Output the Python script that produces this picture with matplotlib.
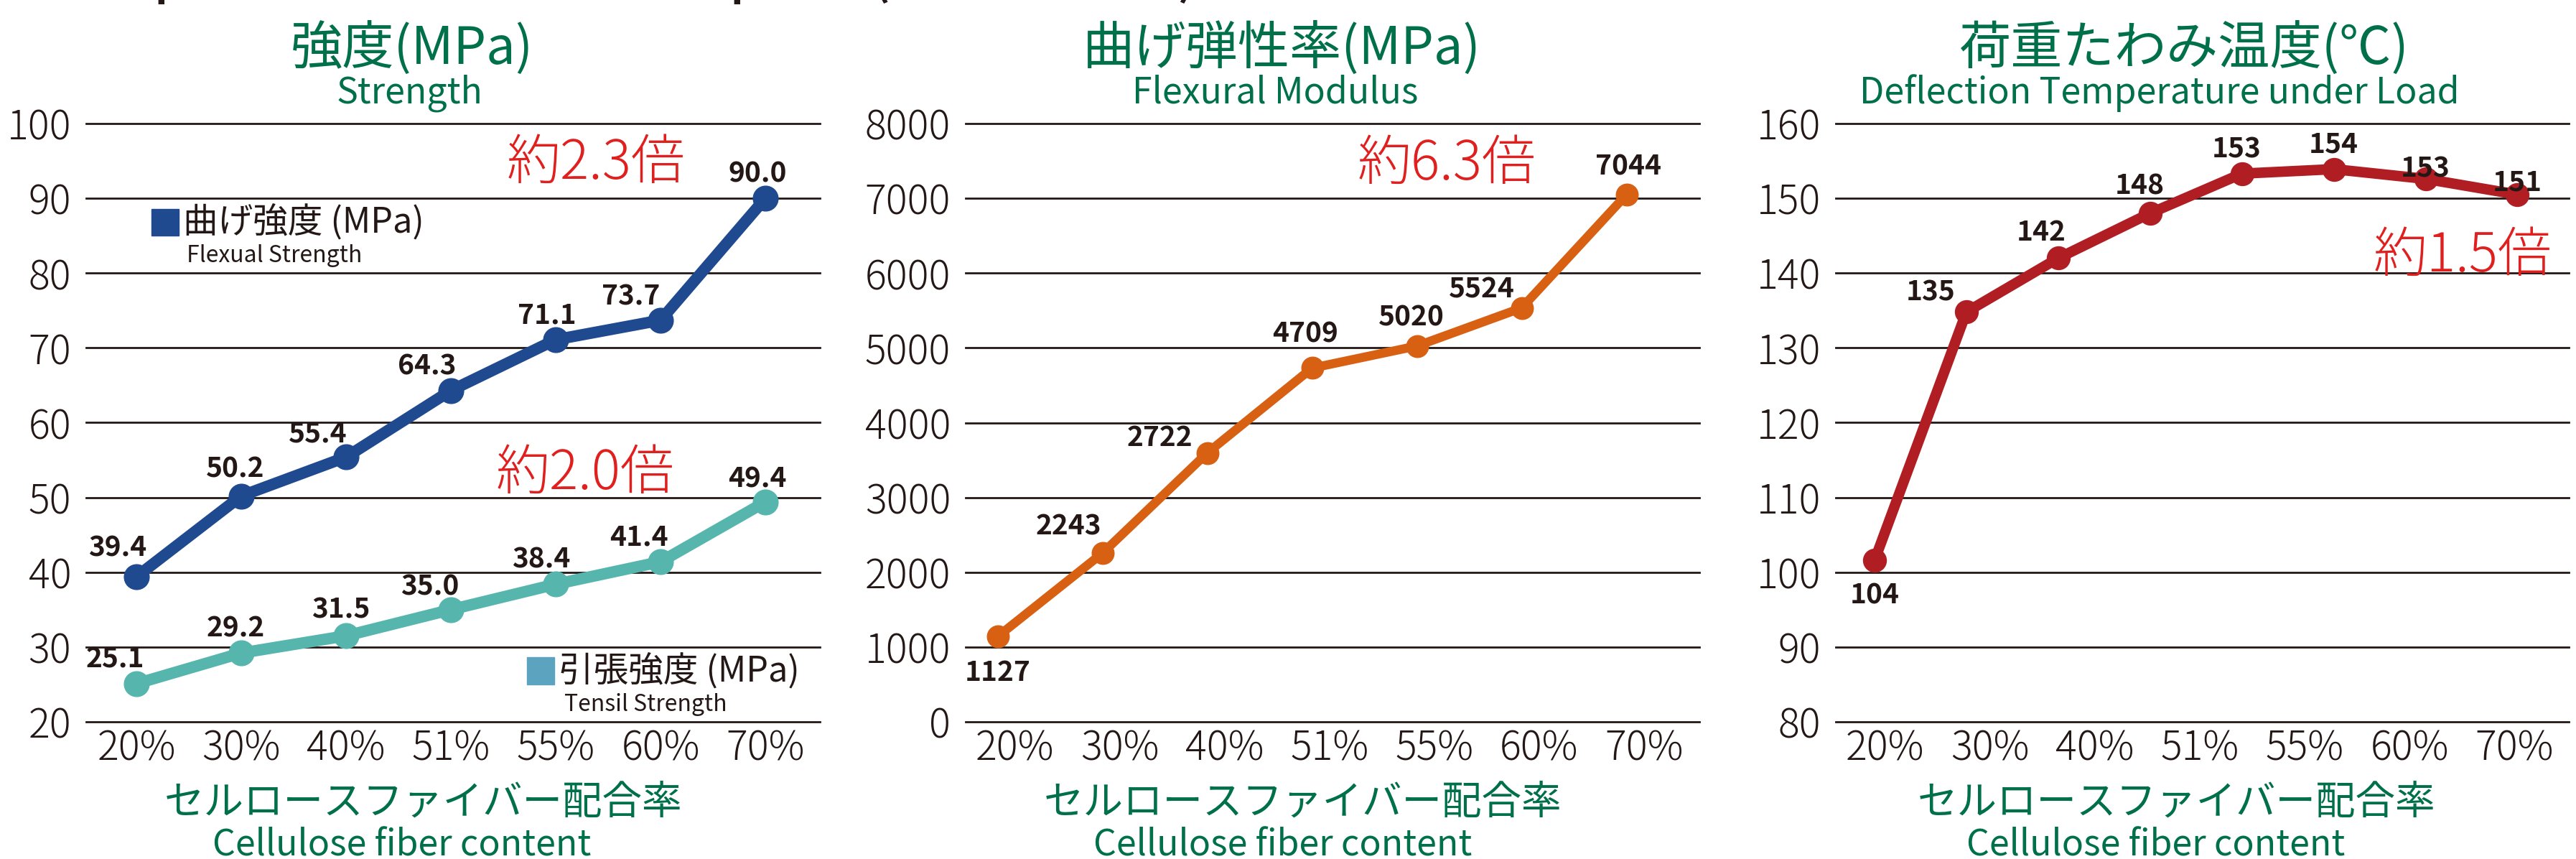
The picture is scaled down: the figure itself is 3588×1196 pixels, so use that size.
import matplotlib
matplotlib.use("Agg")
import matplotlib.pyplot as plt
from matplotlib.patches import Rectangle
import numpy as np

plt.rcParams['font.family'] = ['Noto Sans CJK JP', 'DejaVu Sans']

# --- data -------------------------------------------------------------
fiber = ['20%', '30%', '40%', '51%', '55%', '60%', '70%']

flex_strength = [39.4, 50.2, 55.4, 64.3, 71.1, 73.7, 90.0]
tensile_strength = [25.1, 29.2, 31.5, 35.0, 38.4, 41.4, 49.4]

# flexural modulus: plotted positions as drawn, labels as printed
modulus = [1140, 2255, 3595, 4730, 5025, 5535, 7050]
modulus_labels = ['1127', '2243', '2722', '4709', '5020', '5524', '7044']

# deflection temperature: 8 points drawn over the 7 categories
dtul = [101.6, 134.8, 142.0, 148.0, 153.3, 153.9, 152.6, 150.5]
dtul_labels = ['104', '135', '142', '148', '153', '154', '153', '151']

# label offsets (pixels, y up)
flex_off = [(-26, 40), (-8, 38), (-39, 32), (-33, 34), (-12, 34), (-41, 33), (-11, 34)]
tens_off = [(-30, 34), (-8, 34), (-7, 36), (-29, 32), (-20, 34), (-30, 34), (-11, 32)]
mod_off = [(0, -50), (-47, 37), (-66, 21), (-9, 47), (-8, 40), (-56, 26), (2, 39)]
dtul_off = [(0, -49), (-50, 27), (-24, 36), (-15, 38), (-8, 34), (0, 35), (0, 14), (0, 17)]

# --- style -------------------------------------------------------------
W, H = 3588, 1196
dark = '#231815'
green = '#00704A'
red = '#E0201F'
blue = '#1F4A8F'
teal = '#56B6AE'
orange = '#D86013'
crimson = '#B01E24'

fig = plt.figure(figsize=(W / 100, H / 100), dpi=100)


def ftext(x, y, s, **kw):
    fig.text(x / W, 1 - y / H, s, **kw)


def make_axes(left, width, ymin, ymax, step, xlim):
    ax = fig.add_axes([left / W, 1 - 1005 / H, width / W, (1005 - 172) / H])
    ax.set_xlim(*xlim)
    ax.set_ylim(ymin, ymax)
    for s in ax.spines.values():
        s.set_visible(False)
    ticks = np.arange(ymin, ymax + step, step)
    for t in ticks:
        ax.axhline(t, color=dark, lw=2.0, zorder=1, clip_on=False)
    ax.set_yticks(ticks)
    ax.set_xticks(range(len(fiber)))
    ax.set_xticklabels(fiber)
    ax.tick_params(axis='y', length=0, labelsize=40, colors=dark, pad=15)
    ax.tick_params(axis='x', length=0, labelsize=40, colors=dark, pad=6)
    for t in ax.get_xticklabels() + ax.get_yticklabels():
        t.set_fontweight('light')
    return ax


def labels(ax, xs, ys, texts, offs):
    for x, y, t, (dx, dy) in zip(xs, ys, texts, offs):
        ax.annotate(t, (x, y), xytext=(dx, dy), textcoords='offset pixels',
                    ha='center', va='center', fontsize=28, fontweight='bold',
                    color=dark, zorder=5)


# panel 1: strength
ax1 = make_axes(120, 1022, 20, 100, 10, (-0.48, 6.52))
x = np.arange(len(fiber))
ax1.plot(x, flex_strength, color=blue, lw=11.5, marker='o', ms=25,
         solid_joinstyle='round', zorder=3)
ax1.plot(x, tensile_strength, color=teal, lw=11.5, marker='o', ms=25,
         solid_joinstyle='round', zorder=3)
labels(ax1, x, flex_strength, [f"{v:.1f}" for v in flex_strength], flex_off)
labels(ax1, x, tensile_strength, [f"{v:.1f}" for v in tensile_strength], tens_off)

# panel 2: flexural modulus
ax2 = make_axes(1345, 1022, 0, 8000, 1000, (-0.47, 6.53))
x2 = np.arange(len(fiber)) - 0.165
ax2.plot(x2, modulus, color=orange, lw=9, marker='o', ms=22,
         solid_joinstyle='round', zorder=3)
labels(ax2, x2, modulus, modulus_labels, mod_off)

# panel 3: deflection temperature under load
ax3 = make_axes(2557, 1021, 80, 160, 10, (-0.47, 6.52))
x3 = np.linspace(-0.10, 6.03, len(dtul))
ax3.plot(x3, dtul, color=crimson, lw=10.5, marker='o', ms=23,
         solid_joinstyle='round', zorder=3)
labels(ax3, x3, dtul, dtul_labels, dtul_off)

# titles
ftext(574, 67, '強度(MPa)', ha='center', va='center', fontsize=52, color=green)
ftext(570, 130, 'Strength', ha='center', va='center', fontsize=36, color=green)
ftext(1785, 67, '曲げ弾性率(MPa)', ha='center', va='center', fontsize=52, color=green)
ftext(1776, 130, 'Flexural Modulus', ha='center', va='center', fontsize=36, color=green)
ftext(3042, 67, '荷重たわみ温度(℃)', ha='center', va='center', fontsize=52, color=green)
ftext(3008, 130, 'Deflection Temperature under Load', ha='center', va='center',
      fontsize=36, color=green)

# x axis labels
for cx, ex in [(589, 560), (1814, 1787), (3031, 3003)]:
    ftext(cx, 1118, 'セルロースファイバー配合率', ha='center', va='center',
          fontsize=40, color=green)
    ftext(ex, 1192, 'Cellulose fiber content', ha='center', va='baseline',
          fontsize=36, color=green)

# ratio notes
for nx, ny, s in [(830, 228, '約2.3倍'), (815, 660, '約2.0倍'),
                  (2015, 229, '約6.3倍'), (3430, 357, '約1.5倍')]:
    ftext(nx, ny, s, ha='center', va='center', fontsize=54, color=red,
          fontweight='light')

# legends
fig.add_artist(Rectangle((211 / W, 1 - 328 / H), 38 / W, 37 / H,
                         transform=fig.transFigure, color=blue))
ftext(255, 310, '曲げ強度 (MPa)', ha='left', va='center', fontsize=35, color=dark)
ftext(260, 356, 'Flexual Strength', ha='left', va='center', fontsize=23, color=dark)
fig.add_artist(Rectangle((734 / W, 1 - 953 / H), 38 / W, 38 / H,
                         transform=fig.transFigure, color='#5BA3BF'))
ftext(778, 935, '引張強度 (MPa)', ha='left', va='center', fontsize=35, color=dark)
ftext(786, 981, 'Tensil Strength', ha='left', va='center', fontsize=23, color=dark)

# page heading, cut off at the top edge
ftext(115, -7, 'Properties of CNLEA Pellet Compound (base resin: PP)', ha='left',
      va='baseline', fontsize=42, fontweight='bold', color=dark)

fig.savefig('out.png', dpi=100)
